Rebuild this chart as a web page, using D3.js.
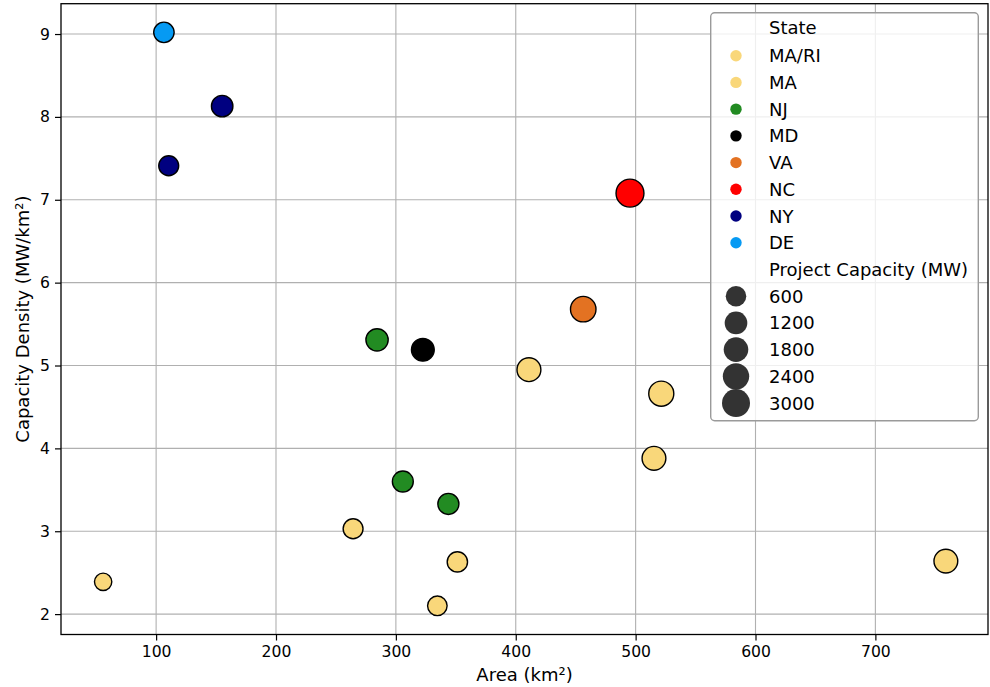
<!DOCTYPE html>
<html>
<head>
<meta charset="utf-8">
<script src="https://cdn.jsdelivr.net/npm/d3@7"></script>
<style>
  html, body { margin: 0; padding: 0; background: #fff; }
  svg { display: block; font-family: "DejaVu Sans", sans-serif; }
</style>
</head>
<body>
<svg id="chart" width="990" height="687"></svg>
<script>
// Offshore wind lease areas: area vs. capacity density, sized by project capacity
const states   = ["MA/RI", "MA", "MA", "MA", "MA", "MA", "MA", "MA",
                  "NJ", "NJ", "NJ", "MD", "VA", "NC", "NY", "NY", "DE"];
const areaKm2  = [334.6, 55.8, 758.8, 351.3, 264.3, 515.3, 521.4, 411.0,
                  284.3, 305.8, 343.8, 322.5, 456.3, 495.3, 155.1, 110.5, 106.5];
const density  = [2.10, 2.39, 2.64, 2.63, 3.03, 3.88, 4.66, 4.95,
                  5.31, 3.60, 3.33, 5.19, 5.68, 7.08, 8.13, 7.41, 9.02];
const capacity = [704, 132, 2000, 924, 800, 2000, 2430, 2034,
                  1510, 1100, 1148, 1674, 2587, 3500, 1260, 816, 960];

const stateOrder  = ["MA/RI", "MA", "NJ", "MD", "VA", "NC", "NY", "DE"];
const stateColors = ["#f9d77a", "#f9d77a", "#228b22", "#000000", "#e37222", "#ff0000", "#000080", "#069af3"];

const xTicks = [100, 200, 300, 400, 500, 600, 700];
const yTicks = [2, 3, 4, 5, 6, 7, 8, 9];
const sizeLegendValues = [600, 1200, 1800, 2400, 3000];

const svg = d3.select("#chart");
const plot = { left: 61, right: 988, top: 3.7, bottom: 634.5 };

// 5% padding around the data on both axes
function padded(vals) {
  const [lo, hi] = d3.extent(vals);
  const p = (hi - lo) * 0.05;
  return [lo - p, hi + p];
}

const x = d3.scaleLinear().domain(padded(areaKm2)).range([plot.left, plot.right]);
const y = d3.scaleLinear().domain(padded(density)).range([plot.bottom, plot.top]);
const color = d3.scaleOrdinal().domain(stateOrder).range(stateColors);
// marker area (px^2) grows linearly with capacity
const markerArea = d3.scaleLinear().domain(d3.extent(capacity)).range([300, 780]);

const tickFont = "15.6px";
const labelFont = "18px";

// grid
const grid = svg.append("g");
grid.selectAll("line.gx").data(xTicks).join("line")
  .attr("x1", d => x(d)).attr("x2", d => x(d))
  .attr("y1", plot.top).attr("y2", plot.bottom)
  .attr("stroke", "#b0b0b0").attr("stroke-width", 1.1);
grid.selectAll("line.gy").data(yTicks).join("line")
  .attr("x1", plot.left).attr("x2", plot.right)
  .attr("y1", d => y(d)).attr("y2", d => y(d))
  .attr("stroke", "#b0b0b0").attr("stroke-width", 1.1);

// axes
const xAxis = svg.append("g")
  .attr("transform", `translate(0,${plot.bottom})`)
  .call(d3.axisBottom(x).tickValues(xTicks).tickFormat(d3.format("d")).tickSizeOuter(0).tickSize(6).tickPadding(5));
const yAxis = svg.append("g")
  .attr("transform", `translate(${plot.left},0)`)
  .call(d3.axisLeft(y).tickValues(yTicks).tickFormat(d3.format("d")).tickSizeOuter(0).tickSize(6).tickPadding(5));
[xAxis, yAxis].forEach(g => {
  g.select(".domain").remove();
  g.selectAll(".tick line").attr("stroke", "#000").attr("stroke-width", 1.2);
  g.selectAll(".tick text").attr("fill", "#000")
    .style("font-family", "DejaVu Sans").style("font-size", tickFont);
});

// frame
svg.append("rect")
  .attr("x", plot.left).attr("y", plot.top)
  .attr("width", plot.right - plot.left).attr("height", plot.bottom - plot.top)
  .attr("fill", "none").attr("stroke", "#000").attr("stroke-width", 1.3);

// points
const idx = d3.range(states.length);
svg.append("g").selectAll("circle").data(idx).join("circle")
  .attr("cx", i => x(areaKm2[i]))
  .attr("cy", i => y(density[i]))
  .attr("r", i => Math.sqrt(markerArea(capacity[i])) / 2)
  .attr("fill", i => color(states[i]))
  .attr("stroke", "#000").attr("stroke-width", 1.4);

// axis titles
svg.append("text")
  .attr("x", (plot.left + plot.right) / 2).attr("y", 681)
  .attr("text-anchor", "middle").style("font-size", labelFont)
  .text("Area (km²)");
svg.append("text")
  .attr("transform", `translate(28.5,${(plot.top + plot.bottom) / 2}) rotate(-90)`)
  .attr("text-anchor", "middle").style("font-size", labelFont)
  .text("Capacity Density (MW/km²)");

// legend
const leg = svg.append("g");
leg.append("rect")
  .attr("x", 710.7).attr("y", 12.7).attr("width", 267.6).attr("height", 408)
  .attr("rx", 4).attr("ry", 4)
  .attr("fill", "#fff").attr("fill-opacity", 0.8)
  .attr("stroke", "#9a9a9a").attr("stroke-width", 1.4);

const rowY = i => (i === 0 ? 27.6 : 55.7 + (i - 1) * 26.72);
const markerX = 736, textX = 769;
const rows = [];
rows.push({ label: "State" });
stateOrder.forEach(s => rows.push({ label: s, hue: s }));
rows.push({ label: "Project Capacity (MW)" });
sizeLegendValues.forEach(v => rows.push({ label: String(v), size: v }));

rows.forEach((r, i) => {
  const cy = rowY(i);
  if (r.hue) {
    leg.append("circle").attr("cx", markerX).attr("cy", cy).attr("r", 5.7)
      .attr("fill", color(r.hue));
  } else if (r.size) {
    leg.append("circle").attr("cx", markerX).attr("cy", cy)
      .attr("r", Math.sqrt(markerArea(r.size)) / 2 + 0.7)
      .attr("fill", "#333333");
  }
  leg.append("text").attr("x", textX).attr("y", cy).attr("dy", "0.36em")
    .style("font-size", labelFont).text(r.label);
});
</script>
</body>
</html>
